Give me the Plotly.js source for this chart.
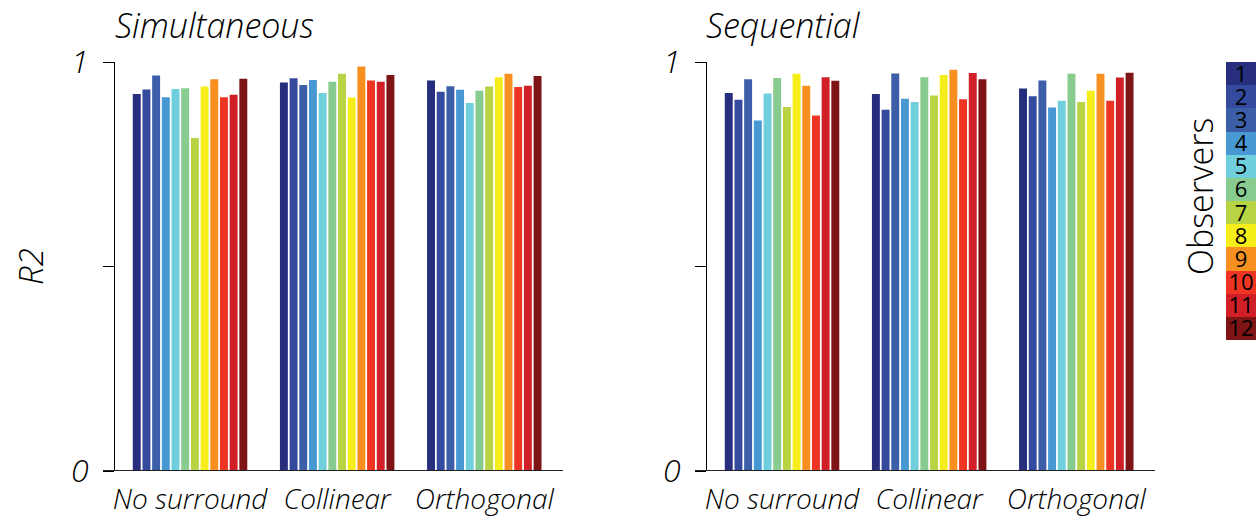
<!DOCTYPE html>
<html>
<head>
<meta charset="utf-8">
<script src="https://cdn.plot.ly/plotly-3.0.1.min.js"></script>
<style>html,body{margin:0;padding:0;background:#fff;}#chart{width:1258px;height:519px;}</style>
</head>
<body>
<div id="chart"></div>
<script>
// ---- data ----
var conditions = ['No surround', 'Collinear', 'Orthogonal'];
var observers = ['1','2','3','4','5','6','7','8','9','10','11','12'];
var observerColors = ['#272e7e','#334a9e','#3c5ea8','#4899d3','#6fcfdd','#88cb8e',
                      '#b8d444','#f6ee1b','#f79020','#ee3524','#d01f27','#7f1416'];
// Simultaneous panel, R2 per observer (1..12)
var simNoSurround = [0.922,0.933,0.967,0.914,0.934,0.936,0.814,0.940,0.958,0.914,0.920,0.959];
var simCollinear  = [0.950,0.960,0.944,0.956,0.924,0.952,0.971,0.913,0.989,0.955,0.952,0.968];
var simOrthogonal = [0.955,0.927,0.941,0.932,0.900,0.930,0.940,0.963,0.971,0.939,0.942,0.966];
// Sequential panel
var seqNoSurround = [0.924,0.908,0.958,0.857,0.923,0.961,0.890,0.971,0.942,0.869,0.963,0.954];
var seqCollinear  = [0.922,0.883,0.972,0.910,0.902,0.963,0.918,0.968,0.981,0.909,0.973,0.958];
var seqOrthogonal = [0.935,0.916,0.955,0.889,0.905,0.971,0.902,0.930,0.971,0.905,0.962,0.974];
var panelTitles = ['Simultaneous', 'Sequential'];
var yTickVals = [0, 0.5, 1];
var yTickText = ['0', '', '1'];

// ---- build ----
var W = 1258, H = 519;
var FONT = '"Open Sans", "Liberation Sans", sans-serif';
function px(x){ return x / W; }
function py(y){ return 1 - y / H; }

var traces = [];
var panels = [
  {data:[simNoSurround, simCollinear, simOrthogonal], xa:'x', ya:'y'},
  {data:[seqNoSurround, seqCollinear, seqOrthogonal], xa:'x2', ya:'y2'}
];
panels.forEach(function(p){
  for (var i = 0; i < observers.length; i++) {
    traces.push({
      type:'bar', x:conditions,
      y:[p.data[0][i], p.data[1][i], p.data[2][i]],
      name:observers[i], xaxis:p.xa, yaxis:p.ya,
      marker:{color:observerColors[i], line:{width:0}},
      showlegend:false, hoverinfo:'y'
    });
  }
});

// colour key as a heatmap with numbers
var cs = [];
for (var k = 0; k < observerColors.length; k++) {
  cs.push([k/12, observerColors[k]]);
  cs.push([(k+1)/12, observerColors[k]]);
}
traces.push({
  type:'heatmap', xaxis:'x3', yaxis:'y3',
  z: observers.map(function(o){ return [Number(o)]; }),
  y: observers, x:['k'],
  colorscale:cs, zmin:0.5, zmax:12.5, showscale:false,
  texttemplate:'%{z}', textfont:{size:22, color:'#000', family:FONT},
  hoverinfo:'skip'
});

var yBottom = py(471), yTop = py(62);
function xAxis(domain){
  return {domain:domain, range:[-0.51, 2.535], showline:false, ticks:'',
    showgrid:false, zeroline:false, automargin:false, fixedrange:true,
    tickfont:{size:28, family:FONT, style:'italic', weight:300, color:'#000'},
    ticklabelstandoff:9};
}
function yAxis(anchor){
  return {domain:[yBottom, yTop], range:[0,1], anchor:anchor, showline:true,
    linecolor:'#000', linewidth:1, ticks:'outside', ticklen:11, tickcolor:'#000',
    tickwidth:1, tickvals:yTickVals, ticktext:yTickText, showgrid:false,
    zeroline:false, automargin:false, fixedrange:true, ticklabelstandoff:8,
    tickfont:{size:32, family:FONT, style:'italic', weight:300, color:'#000'}};
}

var layout = {
  width:W, height:H, margin:{l:0,r:0,t:0,b:0}, paper_bgcolor:'#fff', plot_bgcolor:'rgba(0,0,0,0)',
  barmode:'group', bargap:0.21, bargroupgap:0.18,
  font:{family:FONT, color:'#000'},
  xaxis: Object.assign(xAxis([px(115), px(563)]), {anchor:'y'}),
  yaxis: yAxis('x'),
  xaxis2: Object.assign(xAxis([px(707), px(1155)]), {anchor:'y2'}),
  yaxis2: yAxis('x2'),
  xaxis3:{domain:[px(1226), px(1256)], anchor:'y3', visible:false, fixedrange:true},
  yaxis3:{domain:[py(340), py(62)], anchor:'x3', visible:false, autorange:'reversed', fixedrange:true},
  shapes:[
    {type:'line', xref:'paper', yref:'y', x0:px(103), x1:px(563), y0:0, y1:0,
     line:{color:'#222', width:2}},
    {type:'line', xref:'paper', yref:'y2', x0:px(695), x1:px(1155), y0:0, y1:0,
     line:{color:'#222', width:2}}
  ],
  annotations:[
    {text:panelTitles[0], xref:'paper', yref:'paper', x:px(113), y:py(25), xanchor:'left', yanchor:'middle',
     showarrow:false, font:{size:34, family:FONT, style:'italic', weight:300, color:'#000'}},
    {text:panelTitles[1], xref:'paper', yref:'paper', x:px(704), y:py(25), xanchor:'left', yanchor:'middle',
     showarrow:false, font:{size:34, family:FONT, style:'italic', weight:300, color:'#000'}},
    {text:'R2', xref:'paper', yref:'paper', x:px(30), y:py(267), xanchor:'center', yanchor:'middle',
     textangle:-90, showarrow:false, font:{size:33, family:FONT, style:'italic', weight:300, color:'#000'}},
    {text:'Observers', xref:'paper', yref:'paper', x:px(1200), y:py(197), xanchor:'center', yanchor:'middle',
     textangle:-90, showarrow:false, font:{size:34, family:FONT, weight:300, color:'#000'}}
  ]
};

Plotly.newPlot('chart', traces, layout, {displayModeBar:false, staticPlot:true});
</script>
</body>
</html>
